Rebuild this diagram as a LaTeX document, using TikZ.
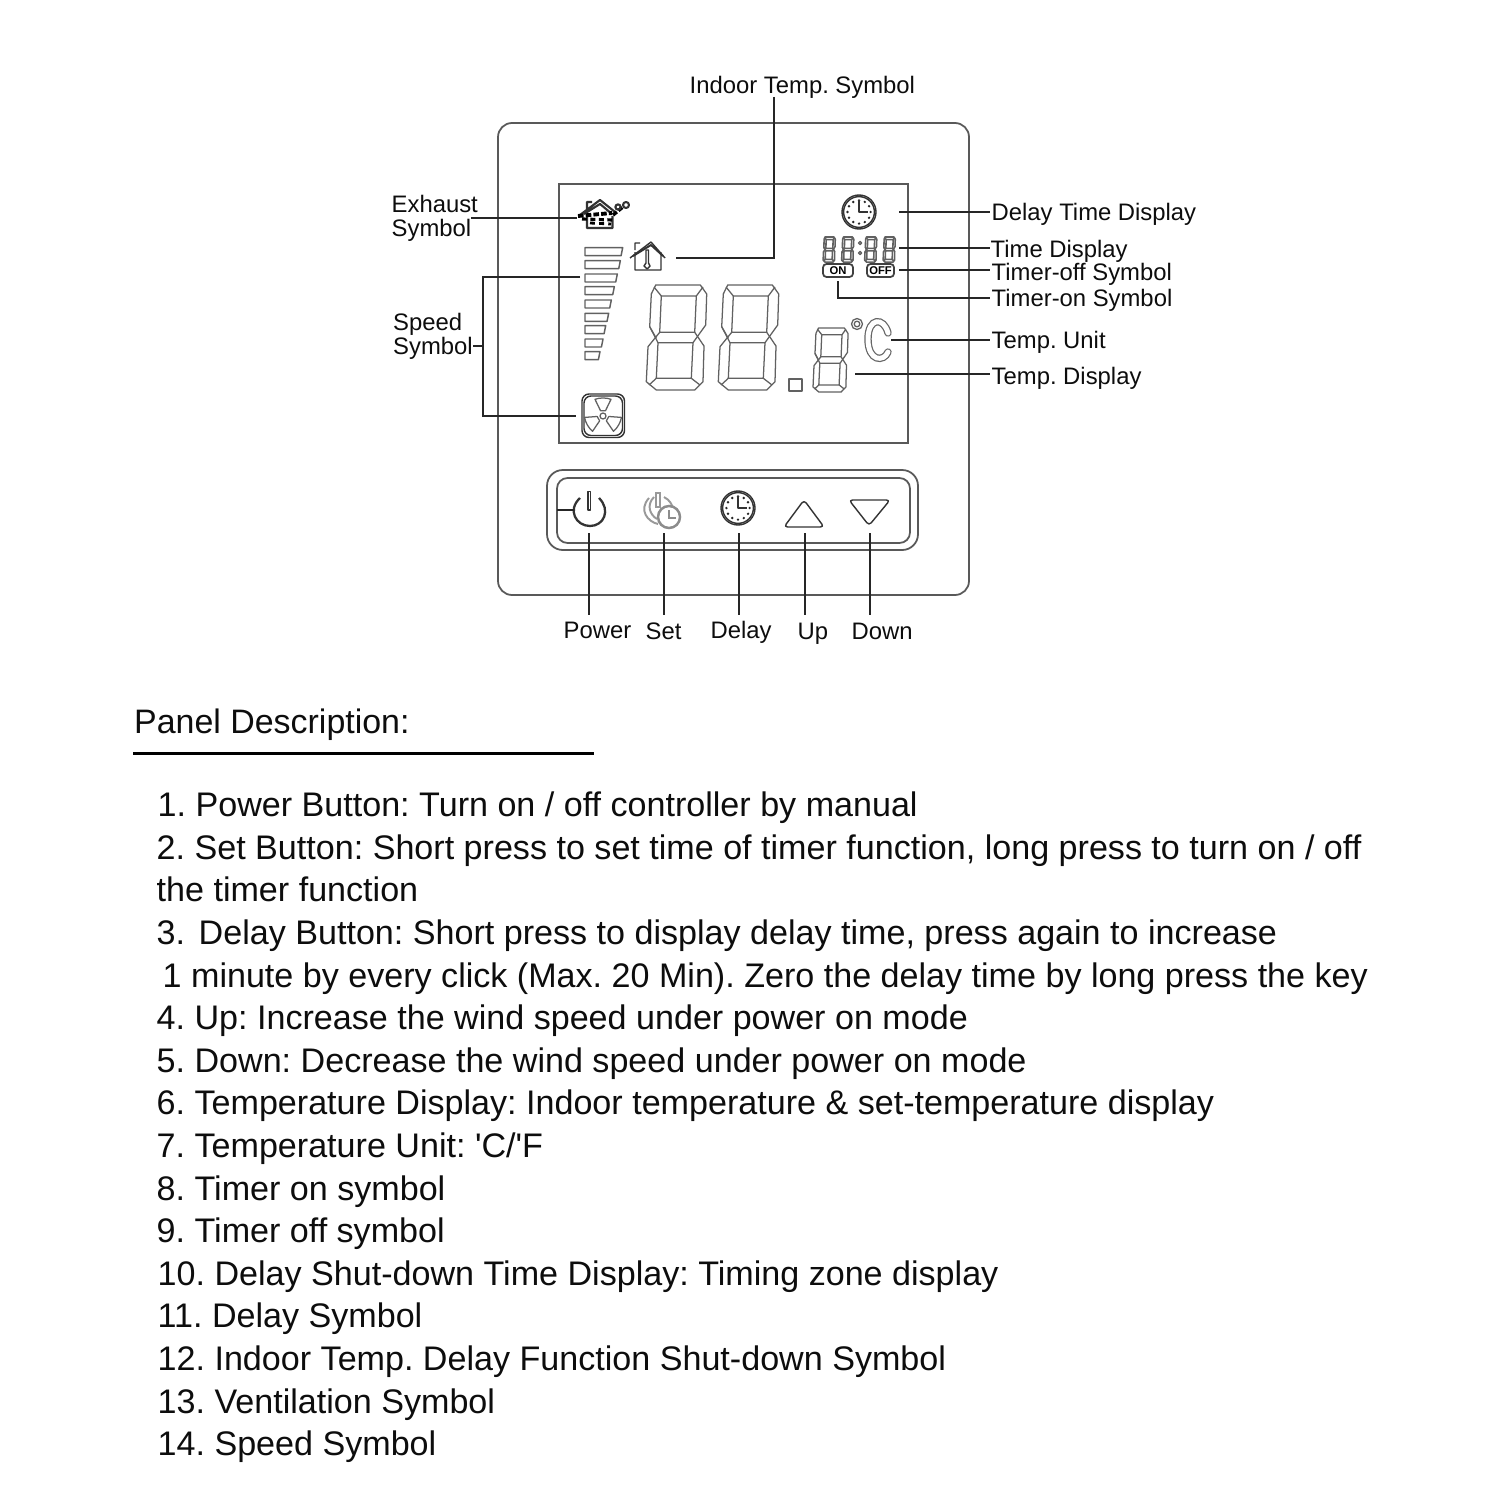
\documentclass[tikz,border=0pt]{standalone}
\usepackage{fontspec}
\setmainfont{Liberation Sans}
\newfontfamily\plainquote{Liberation Sans}
\frenchspacing
\newcommand{\tightlines}{\setlength{\lineskiplimit}{-10pt}}
\newcommand{\lblfont}{\fontsize{6.78}{6.55}\selectfont\tightlines}
\newcommand{\sevenseg}[4]{%
\begin{scope}[shift={(#1,#2)},xscale=#3,yscale=#4]
\draw[seg] (8.3,53.3) -- (1.7,41.7) -- (3.3,9) -- (7.7,0) -- (52.3,0) -- (58.7,9) -- (57.7,40) -- (45,57.7);
\draw[seg] (1.7,41.7) -- (10,57.7);
\draw[seg] (11.7,47.3) -- (0,61.7) -- (-1.7,96.7) -- (8.3,105) -- (46.7,105) -- (55,96.7) -- (56,61) -- (46.7,47.3);
\draw[seg] (13.3,11) -- (48.3,11) -- (46.7,47.3) -- (11.7,47.3) -- cycle (10,57.7) -- (45,57.7) -- (43.3,93.3) -- (8.3,93.3) -- cycle;
\draw[seg] (6,2) -- (13.3,11) (55,2) -- (48.3,11) (1,100) -- (8.3,93.3) (52,100) -- (43.3,93.3);
\end{scope}}
\newcommand{\clockface}[3]{%
\begin{scope}[shift={(#1,#2)}]
\draw[icon] (0,0) circle (#3);
\draw[icon] (0,0) circle ({#3-1.6});
\foreach \a in {0,30,...,330} \fill[black!85] (\a:{#3*0.68}) circle (1.3);
\draw[icon,line width=0.65pt] (0,{-#3*0.68}) -- (0,0) -- ({#3*0.55},0);
\end{scope}}
\tikzset{
 leader/.style={draw=black!85,line width=0.42pt},
 seg/.style={draw=black!62,line width=0.36pt,line join=round},
 icon/.style={draw=black!80,line width=0.4pt,line join=round},
 frame/.style={draw=black!65,line width=0.5pt},
 lbl/.style={inner sep=0,anchor=base west,text=black!95,font=\lblfont,align=left},
 body/.style={inner sep=0,anchor=base west,text=black!95,font=\fontsize{9.695}{11}\selectfont},
 pill/.style={draw=black!75,line width=0.5pt,rounded corners=1pt,inner sep=0,font=\fontsize{3.2}{3.2}\bfseries\selectfont},
}
\begin{document}
\begin{tikzpicture}[x=0.01cm,y=-0.01cm]
\useasboundingbox (0,0) rectangle (1500,1500);
\fill[white] (0,0) rectangle (1500,1500);
% panel
\draw[frame,rounded corners=4pt] (498,123) rectangle (969,595);
\draw[frame] (559,184) rectangle (908,443);
\draw[frame,rounded corners=4.5pt] (547,470) rectangle (918,550);
\draw[frame,rounded corners=3pt] (557,478) rectangle (910,543);
% big digits
\sevenseg{648}{285}{1}{1}
\sevenseg{720}{285}{1}{1}
\sevenseg{814}{328}{0.58}{0.61}
\draw[seg] (789,379) rectangle (802,391);
% time digits
\begin{scope}[seg/.append style={line width=0.45pt}]
\sevenseg{823.5}{237}{0.2}{0.24}
\sevenseg{842}{237}{0.2}{0.24}
\sevenseg{865}{237}{0.2}{0.24}
\sevenseg{883.5}{237}{0.2}{0.24}
\end{scope}
\draw[seg] (860,243) circle (1.6) (860,253) circle (1.6);
% degree and C
\draw[seg] (857,324) circle (5.5) (857,324) circle (2.8);
\draw[draw=black!60,line width=2.1pt,line cap=round] (888,333) .. controls (884,317) and (868,317) .. (868,339) .. controls (868,362) and (884,362) .. (888,352);
\draw[draw=white,line width=1.4pt,line cap=round] (888,333) .. controls (884,317) and (868,317) .. (868,339) .. controls (868,362) and (884,362) .. (888,352);
% clock top right
\clockface{859}{212}{17}
% ON/OFF
\node[pill,minimum width=30*0.2845pt,minimum height=13*0.2845pt] (onsym) at (838,270.5) {ON};
\node[pill,minimum width=27*0.2845pt,minimum height=13*0.2845pt] (offsym) at (880.5,270.5) {OFF};
% speed bars
\foreach \i/\t/\r in {0/248/233,1/241/272,2/232/312,3/223/350,4/214/390,5/206/430,6/197/467,7/189/507,8/180/545}{
 \draw[seg,line width=0.42pt] (585,{170+\r/3}) -- ({540+\t/3},{170+\r/3}) -- ({540+\t/3-1.6},{170+\r/3+8}) -- (585,{170+\r/3+8}) -- cycle;
}
% fan
\draw[icon,rounded corners=2pt] (582,394) rectangle (624.5,437.5);
\draw[icon,rounded corners=2pt] (584,396) rectangle (622.5,435.5);
\draw[seg] (603,416) circle (3);
\foreach \a in {0,120,240}{
 \begin{scope}[shift={(603,416)},rotate=\a]
 \draw[seg] (-2.5,-5.3) -- (-8,-16.7) .. controls (-3,-18.5) and (3,-18.5) .. (8,-16.7) -- (2.5,-5.3) -- cycle;
 \end{scope}
}
% thermometer house
\draw[icon] (630,258) -- (651,242) -- (665,258) (635,252) -- (635,270) -- (661,270) -- (661,252) (635,250) -- (635,243) -- (640,243);
\draw[icon,line width=0.55pt] (633,256) -- (651,245) -- (663,256);
\draw[icon] (646,250) -- (646,263) -- (644,266) -- (647,269) -- (650,266) -- (648.5,263) -- (648.5,250) -- cycle;
% exhaust house
\draw[icon,line width=0.6pt] (587,216) -- (587,228) -- (612.5,228) -- (612.5,216) (580,215) -- (600,200) -- (615,212) (584,214) -- (600,204) -- (612,214) (587,209) -- (587,202) -- (592,202);
\draw[black,line width=1.1pt,dash pattern=on 1.6pt off 0.6pt] (578,216) -- (612,213);
\draw[black,line width=0.9pt,dash pattern=on 1.4pt off 1pt] (582,219) -- (613,220);
\draw[black,line width=0.8pt,dash pattern=on 1.4pt off 1.2pt] (590,223) -- (611,224);
\draw[black,line width=1pt,dash pattern=on 1.4pt off 0.6pt] (613,215) -- (624,206);
\draw[icon,line width=0.6pt] (618,207) circle (2.6) (626,205) circle (3);
% power
\draw[icon,line width=0.65pt] (580,498) .. controls (567,510) and (576,526) .. (590,526) .. controls (604,526) and (611,510) .. (599,498);
\draw[icon] (588,491.5) rectangle (590.5,510);
% set (gray)
\draw[draw=black!40,line width=0.55pt] (649,498) .. controls (638,510) and (648,522) .. (658,524);
\draw[draw=black!40,line width=0.55pt] (654,497) .. controls (646,505) and (650,515) .. (657,519);
\draw[draw=black!40,line width=0.55pt] (664,497) .. controls (670,500) and (672,505) .. (673,508);
\draw[draw=black!40,line width=0.55pt] (656,493) rectangle (660,507);
\draw[draw=black!45,line width=0.7pt,fill=white] (669,517) circle (11);
\draw[draw=black!45,line width=0.6pt] (669,510) -- (669,518) -- (676,518);
% delay clock
\clockface{738}{508}{17}
% arrows
\draw[icon,rounded corners=1pt] (804,500) -- (824,527) -- (784,527) -- cycle;
\draw[icon,rounded corners=1pt] (849,500) -- (890,500) -- (869,525.5) -- cycle;
% leaders and labels
\node[lbl] (lIndoor) at (689,94) {Indoor Temp. Symbol};
\coordinate (cIndoorTop) at (774,97);
\coordinate (cIndoorKnee) at (774,258);
\coordinate (cIndoor) at (676,258);
\draw[leader] (cIndoorTop) -- (cIndoorKnee) -- (cIndoor);
\node[lbl] (lExhaust) at (391,236) {Exhaust\\Symbol};
\coordinate (cExhaustL) at (471,218);
\coordinate (cExhaust) at (577,218);
\draw[leader] (cExhaustL) -- (cExhaust);
\node[lbl] (lSpeed) at (392.5,354) {Speed\\Symbol};
\coordinate (cSpeedL) at (473,346);
\coordinate (cSpeedJ) at (483,346);
\coordinate (cSpeedT) at (483,277);
\coordinate (cSpeedB) at (483,416);
\coordinate (cBar) at (580,277);
\coordinate (cFan) at (576,416);
\draw[leader] (cSpeedL) -- (cSpeedJ);
\draw[leader] (cBar) -- (cSpeedT) -- (cSpeedB) -- (cFan);
\node[lbl] (lDelayT) at (991,221) {Delay Time Display};
\node[lbl] (lTime) at (990,258) {Time Display};
\node[lbl] (lOff) at (991,280) {Timer-off Symbol};
\node[lbl] (lOn) at (991,307) {Timer-on Symbol};
\node[lbl] (lUnit) at (991,348) {Temp. Unit};
\node[lbl] (lTemp) at (991,384) {Temp. Display};
\coordinate (cD1) at (899,212);\coordinate (cD1r) at (990,212);
\coordinate (cD2) at (899,248);\coordinate (cD2r) at (990,248);
\coordinate (cD3) at (899,270);\coordinate (cD3r) at (990,270);
\coordinate (cD4) at (838,281);\coordinate (cD4k) at (838,298);\coordinate (cD4r) at (990,298);
\coordinate (cD5) at (891,340);\coordinate (cD5r) at (990,340);
\coordinate (cD6) at (855,374);\coordinate (cD6r) at (990,374);
\draw[leader] (cD1) -- (cD1r);
\draw[leader] (cD2) -- (cD2r);
\draw[leader] (cD3) -- (cD3r);
\draw[leader] (cD4) -- (cD4k) -- (cD4r);
\draw[leader] (cD5) -- (cD5r);
\draw[leader] (cD6) -- (cD6r);
\node[lbl] (lPower) at (563,638) {Power};
\node[lbl] (lSet) at (645,639) {Set};
\node[lbl] (lDelay) at (710,638) {Delay};
\node[lbl] (lUp) at (797,639) {Up};
\node[lbl] (lDown) at (851,639) {Down};
\foreach \n/\x in {a/589,b/664,c/739,d/805,e/870}{
 \coordinate (t\n) at (\x,533);
 \coordinate (b\n) at (\x,615);
 \draw[leader] (t\n) -- (b\n);
}
\coordinate (cPw1) at (557,510);
\coordinate (cPw2) at (574,510);
\draw[leader] (cPw1) -- (cPw2);
% description
\node[body,font=\fontsize{9.65}{11}\selectfont] (title) at (133.5,733) {Panel Description:};
\coordinate (ruleL) at (133,753);
\coordinate (ruleR) at (594,753);
\draw[black,line width=0.85pt] (ruleL) -- (ruleR);
\node[body] (t01) at (157,816) {1. Power Button: Turn on / off controller by manual};
\node[body] (t02) at (156,859) {2. Set Button: Short press to set time of timer function, long press to turn on / off};
\node[body] (t03) at (156,901) {the timer function};
\node[body] (t04) at (156,944) {3.\hspace{0.4em}Delay Button: Short press to display delay time, press again to increase};
\node[body] (t05) at (162,987) {1 minute by every click (Max. 20 Min). Zero the delay time by long press the key};
\node[body] (t06) at (156,1029) {4. Up: Increase the wind speed under power on mode};
\node[body] (t07) at (156,1072) {5. Down: Decrease the wind speed under power on mode};
\node[body] (t08) at (156,1114) {6. Temperature Display: Indoor temperature \& set-temperature display};
\node[body] (t09) at (156,1157) {7. Temperature Unit: {\plainquote 'C/'F}};
\node[body] (t10) at (156,1200) {8. Timer on symbol};
\node[body] (t11) at (156,1242) {9. Timer off symbol};
\node[body] (t12) at (157,1285) {10. Delay Shut-down Time Display: Timing zone display};
\node[body] (t13) at (157,1327) {11. Delay Symbol};
\node[body] (t14) at (157,1370) {12. Indoor Temp. Delay Function Shut-down Symbol};
\node[body] (t15) at (157,1413) {13. Ventilation Symbol};
\node[body] (t16) at (157,1455) {14. Speed Symbol};
\end{tikzpicture}
\end{document}
